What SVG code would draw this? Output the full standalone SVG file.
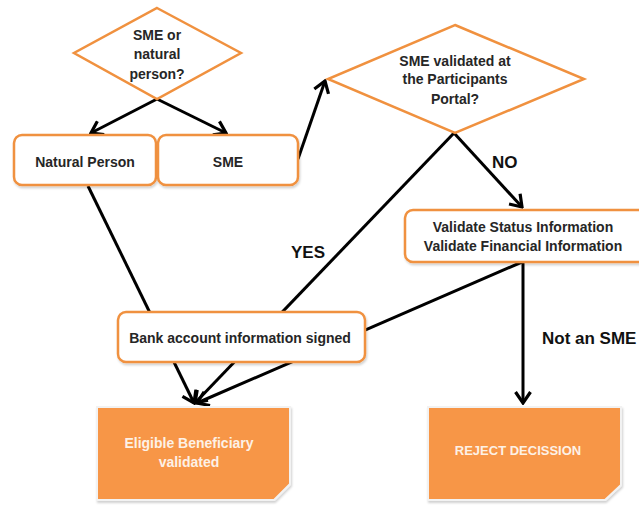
<svg xmlns="http://www.w3.org/2000/svg" width="639" height="507" viewBox="0 0 639 507">
<defs>
<marker id="arr" viewBox="-13 -9 15 18" refX="0" refY="0" markerWidth="15" markerHeight="18" markerUnits="userSpaceOnUse" orient="auto">
<path d="M-11,-7.5 L0,0 L-11,7.5" fill="none" stroke="#000" stroke-width="3.2" stroke-linejoin="miter"/>
</marker>
<filter id="sh" x="-10%" y="-10%" width="120%" height="130%">
<feDropShadow dx="1" dy="2" stdDeviation="1.2" flood-color="#000" flood-opacity="0.18"/>
</filter>
</defs>
<style>
.c{stroke:#000;stroke-width:3;fill:none;marker-end:url(#arr)}
.d{fill:#fff;stroke:#f0913f;stroke-width:2.5}
.b{fill:#fff;stroke:#f0913f;stroke-width:2.5}
.o{fill:#f79646;stroke:#f2f2f2;stroke-width:2}
.t{font-family:"Liberation Sans",Arial,sans-serif;font-weight:bold;font-size:14px;fill:#262626;text-anchor:middle}
.w{font-family:"Liberation Sans",Arial,sans-serif;font-weight:bold;font-size:14px;fill:#fdf1e6;text-anchor:middle}
.l{font-family:"Liberation Sans",Arial,sans-serif;font-weight:bold;font-size:17px;fill:#111}
</style>
<rect width="639" height="507" fill="#fff"/>
<g id="connectors">
<line class="c" x1="157" y1="99" x2="91" y2="133"/>
<line class="c" x1="157" y1="99" x2="226" y2="133"/>
<line class="c" x1="298" y1="159" x2="325" y2="81"/>
<line class="c" x1="454" y1="133" x2="522" y2="207"/>
<line class="c" x1="88" y1="186" x2="194" y2="403"/>
<line class="c" x1="454" y1="133" x2="195" y2="403"/>
<line class="c" x1="522" y1="262" x2="197" y2="403"/>
<line class="c" x1="523" y1="262" x2="523" y2="403"/>
</g>
<g id="n-decision1">
<polygon class="d" points="157,8 241,53 157,99 74,53"/>
<text class="t" x="157" y="40">SME or</text>
<text class="t" x="157" y="59">natural</text>
<text class="t" x="157" y="79">person?</text>
</g>
<g id="n-natural">
<rect class="b" x="14" y="135" width="142" height="50" rx="8" filter="url(#sh)"/>
<text class="t" x="85" y="167">Natural Person</text>
</g>
<g id="n-sme">
<rect class="b" x="158" y="135" width="140" height="50" rx="8" filter="url(#sh)"/>
<text class="t" x="228" y="167">SME</text>
</g>
<g id="n-decision2">
<polygon class="d" points="455,25 584,79 455,133 328,79"/>
<text class="t" x="455" y="66">SME validated at</text>
<text class="t" x="455" y="84">the Participants</text>
<text class="t" x="455" y="104">Portal?</text>
</g>
<g id="n-validate">
<rect class="b" x="405" y="210" width="250" height="52" rx="8" filter="url(#sh)"/>
<text class="t" x="523" y="232">Validate Status Information</text>
<text class="t" x="523" y="251">Validate Financial Information</text>
</g>
<g id="n-bank">
<rect class="b" x="118" y="312" width="247" height="50" rx="8" filter="url(#sh)"/>
<text class="t" x="240" y="343">Bank account  information signed</text>
</g>
<g id="n-eligible">
<polygon class="o" points="97,407 290,407 290,484 274,500 97,500" filter="url(#sh)"/>
<text class="w" x="189" y="448">Eligible Beneficiary</text>
<text class="w" x="189" y="467">validated</text>
</g>
<g id="n-reject">
<polygon class="o" points="428,407 621,407 621,485 605,500 428,500" filter="url(#sh)"/>
<text class="w" x="518" y="455" style="font-size:13px">REJECT DECISSION</text>
</g>
<g id="labels">
<text class="l" x="492" y="168">NO</text>
<text class="l" x="291" y="258">YES</text>
<text class="l" x="542" y="344">Not an SME</text>
</g>
</svg>
